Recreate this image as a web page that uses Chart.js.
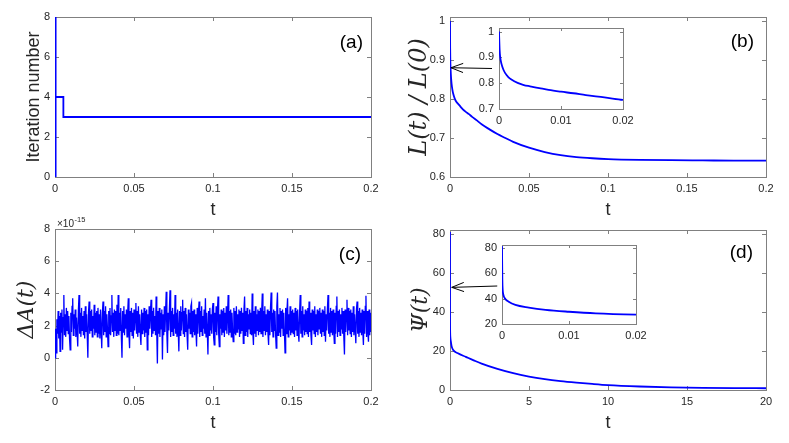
<!DOCTYPE html>
<html>
<head>
<meta charset="utf-8">
<script src="https://cdn.jsdelivr.net/npm/chart.js@4.4.1/dist/chart.umd.min.js"></script>
<style>
  html, body { margin: 0; padding: 0; background: #fff; }
  #fig { position: relative; width: 789px; height: 443px; overflow: hidden; }
  #fig > div { position: absolute; left: 0; top: 0; width: 789px; height: 443px; }
</style>
</head>
<body>
<div id="fig">
  <div><canvas id="chartA"></canvas></div>
  <div><canvas id="chartB"></canvas></div>
  <div><canvas id="chartC"></canvas></div>
  <div><canvas id="chartD"></canvas></div>
  <div><canvas id="insetB"></canvas></div>
  <div><canvas id="insetD"></canvas></div>
</div>
<script>
// (a) iteration number vs t
const aT = [0, 0, 0.0006, 0.0006, 0.0053, 0.0053, 0.2];
const aIter = [0, 8, 8, 4, 4, 3, 3];
const tTicks = [0, 0.05, 0.1, 0.15, 0.2];
const aYTicks = [0, 2, 4, 6, 8];

// (b) L(t)/L(0), the inset shows the same curve on [0, 0.02]
const bT = [0, 0.0001, 0.0002, 0.0004, 0.0007, 0.001, 0.0015, 0.002, 0.003, 0.004, 0.005,
  0.0065, 0.008, 0.01, 0.012, 0.014, 0.017, 0.02, 0.025, 0.03, 0.035, 0.04, 0.05, 0.06,
  0.07, 0.08, 0.09, 0.1, 0.12, 0.14, 0.16, 0.18, 0.2];
const bRatio = [1.0, 0.93, 0.9, 0.875, 0.853, 0.839, 0.824, 0.814, 0.801, 0.793, 0.788,
  0.781, 0.774, 0.767, 0.761, 0.754, 0.745, 0.735, 0.722, 0.71, 0.7, 0.69, 0.675, 0.664,
  0.656, 0.651, 0.648, 0.646, 0.644, 0.643, 0.6425, 0.642, 0.642];
const bYTicks = [0.6, 0.7, 0.8, 0.9, 1];
const insetTTicks = [0, 0.01, 0.02];
const bInsetYTicks = [0.7, 0.8, 0.9, 1];

// (c) Delta A(t), values in units of 1e-15, sampled every cStep
const cStep = 0.0004;
const cDeltaA = [
  0.0, 1.8, 0.3, 2.4, 1.5, 2.9, 1.2, 2.6, 0.4, 2.8, 1.6, 3.0, 0.5, 2.5, 3.9, 1.4, 2.7, 1.3, 3.1, 1.7,
  2.9, 1.5, 2.6, 1.2, 0.5, 2.8, 1.6, 3.2, 3.7, 1.4, 2.7, 1.8, 3.0, 1.3, 2.5, 1.6, 0.7, 2.9, 3.9, 1.5,
  2.8, 1.3, 3.1, 1.7, 2.6, 1.4, 2.9, 1.2, 3.2, 1.6, 2.7, 1.4, 0.0, 2.8, 3.5, 1.5, 2.9, 1.7, 3.0, 1.3,
  2.6, 1.8, 3.3, 1.4, 2.8, 1.6, 2.9, 1.3, 3.1, 1.5, 2.7, 1.2, 3.0, 1.7, 0.6, 2.8, 3.5, 1.4, 2.9, 1.6,
  3.2, 1.3, 2.7, 1.8, 0.7, 2.9, 1.5, 3.1, 1.4, 2.6, 3.9, 1.6, 2.8, 1.3, 3.0, 1.7, 2.9, 1.4, 3.3, 1.5,
  3.9, 1.4, 2.8, 1.7, 3.1, 1.3, 0.0, 2.9, 1.6, 3.2, 1.4, 2.7, 1.8, 3.0, 1.3, 2.8, 3.7, 1.5, 0.6, 2.9,
  1.6, 3.1, 1.4, 2.8, 1.2, 3.0, 1.7, 2.6, 3.4, 1.5, 2.9, 1.3, 3.2, 1.6, 2.7, 1.4, 0.8, 3.0, 1.5, 2.8,
  1.7, 3.1, 1.3, 2.9, 1.6, 3.0, 0.5, 2.7, 1.4, 3.2, 1.8, 2.8, 3.6, 1.3, 2.9, 1.5, 3.1, 1.7, 2.6, 1.4,
  3.8, 1.6, -0.35, 2.9, 1.5, 3.1, 1.3, 2.8, 1.8, 3.0, -0.1, 2.7, 1.4, 3.2, 1.6, 2.9, 4.1, 1.5, 0.3, 2.8,
  1.7, 3.0, 4.2, 1.3, 2.9, 1.6, 3.1, 1.4, 2.7, 1.8, 3.9, 1.5, 2.8, 1.3, 3.0, 1.6, 0.4, 2.9, 1.4, 3.2,
  1.7, 2.8, 3.6, 1.5, 2.9, 1.3, 3.1, 1.6, 2.7, 1.4, 0.5, 3.0, 1.8, 2.8, 1.5, 3.2, 3.4, 1.3, 2.9, 1.6,
  3.0, 1.4, 2.7, 1.7, 0.7, 3.1, 1.5, 2.8, 3.5, 1.3, 2.9, 1.6, 3.2, 1.4, 2.6, 1.8, 3.0, 1.5, 3.7, 1.3,
  2.8, 1.6, 0.2, 2.9, 1.4, 3.1, 1.7, 2.7, 1.5, 3.0, 3.4, 1.3, 0.8, 2.8, 1.6, 3.2, 1.4, 2.9, 3.8, 1.5,
  0.7, 2.7, 1.8, 3.0, 1.4, 2.9, 1.6, 3.1, 1.3, 2.8, 1.7, 3.2, 1.5, 2.6, 3.9, 1.4, 2.9, 1.6, 3.0, 1.3,
  2.8, 1.7, 1.0, 3.1, 1.5, 2.9, 1.4, 3.2, 1.6, 2.7, 1.8, 3.0, 1.3, 2.9, 1.5, 3.1, 1.7, 2.8, 0.9, 3.0,
  3.8, 1.4, 2.9, 1.6, 3.1, 1.3, 2.7, 1.8, 3.0, 1.5, 2.8, 1.4, 4.0, 1.6, 0.8, 2.9, 1.5, 3.2, 1.3, 2.7,
  1.7, 3.0, 1.4, 2.9, 1.6, 3.1, 1.5, 2.8, 4.0, 1.3, 2.9, 1.7, 3.2, 1.4, 2.7, 1.6, 3.0, 1.5, 0.8, 2.9,
  1.4, 3.1, 4.05, 1.6, 2.8, 1.3, 3.0, 1.7, 2.9, 1.5, 0.6, 3.2, 4.05, 1.4, 2.7, 1.6, 3.1, 1.3, 2.9, 1.8,
  3.0, 1.4, 2.8, 1.6, 0.3, 3.1, 1.5, 2.9, 3.7, 1.3, 2.7, 1.7, 3.2, 1.4, 2.9, 1.6, 3.0, 1.5, 2.8, 1.3,
  3.1, 1.7, 2.9, 1.4, 3.0, 1.6, 1.0, 2.8, 3.9, 1.5, 2.9, 1.3, 3.2, 1.7, 2.7, 1.4, 3.0, 1.6, 2.9, 1.5,
  3.1, 1.3, 3.5, 1.6, 2.8, 1.4, 0.8, 3.0, 1.7, 2.9, 1.5, 3.2, 1.3, 2.7, 1.6, 3.0, 1.4, 2.9, 1.8, 3.1,
  1.5, 2.8, 1.3, 3.0, 1.6, 2.9, 1.4, 3.2, 1.0, 2.7, 1.7, 3.0, 3.9, 1.5, 2.8, 1.3, 3.1, 1.6, 2.9, 1.4,
  3.0, 1.7, 0.9, 2.8, 1.5, 3.2, 3.8, 1.3, 2.9, 1.6, 3.0, 1.4, 2.7, 1.8, 3.1, 1.5, 2.9, 1.3, 0.2, 3.0,
  1.6, 2.8, 3.6, 1.4, 3.1, 1.7, 2.9, 1.5, 3.0, 1.3, 2.8, 1.6, 3.2, 1.4, 2.7, 1.8, 0.9, 3.0, 3.5, 1.5,
  2.9, 1.3, 3.1, 1.6, 2.8, 1.4, 3.0, 1.7, 0.8, 2.9, 1.5, 3.2, 3.85, 1.3, 2.9, 1.6, 1.0, 3.0, 1.4, 2.8,
  1.6
];
const cYTicks = [-2, 0, 2, 4, 6, 8];

// (d) Psi(t), the inset shows the same curve on [0, 0.02]
const dT = [0, 0.00005, 0.0001, 0.0002, 0.0005, 0.001, 0.002, 0.004, 0.0065, 0.01, 0.014,
  0.02, 0.05, 0.1, 0.2, 0.5, 1, 1.5, 2, 3, 4, 5, 6, 7, 8, 9, 10, 12, 14, 16, 18, 20];
const dPsi = [81, 55, 47, 43, 39.7, 37.5, 35, 32.9, 31.1, 29.6, 28.3,
  27.3, 25, 22.5, 20.5, 18.8, 17, 15.2, 13.5, 10.8, 8.6, 6.9, 5.6, 4.6, 3.8, 3.1, 2.5,
  1.8, 1.35, 1.1, 0.95, 0.9];
const dTTicks = [0, 5, 10, 15, 20];
const dYTicks = [0, 20, 40, 60, 80];
const dInsetYTicks = [20, 40, 60, 80];

const W = 789, H = 443;
const AXIS = '#808080';
const TEXT = '#262626';

function points(xs, ys) {
  return xs.map((x, i) => ({ x: x, y: ys[i] }));
}

// box, inward ticks, panel letter, arrow and exponent note
const frame = {
  id: 'frame',
  beforeDatasetsDraw(chart, args, o) {
    const { ctx, chartArea: a, scales: { x, y } } = chart;
    const tl = o.tick || 4;
    ctx.save();
    if (o.fill) {
      ctx.fillStyle = '#fff';
      ctx.fillRect(a.left, a.top, a.right - a.left, a.bottom - a.top);
    }
    ctx.strokeStyle = AXIS;
    ctx.lineWidth = 1;
    ctx.beginPath();
    x.ticks.forEach(t => {
      const px = Math.round(x.getPixelForValue(t.value)) + 0.5;
      ctx.moveTo(px, a.bottom); ctx.lineTo(px, a.bottom - tl);
      ctx.moveTo(px, a.top); ctx.lineTo(px, a.top + tl);
    });
    y.ticks.forEach(t => {
      const py = Math.round(y.getPixelForValue(t.value)) + 0.5;
      ctx.moveTo(a.left, py); ctx.lineTo(a.left + tl, py);
      ctx.moveTo(a.right, py); ctx.lineTo(a.right - tl, py);
    });
    ctx.stroke();
    ctx.strokeRect(Math.round(a.left) + 0.5, Math.round(a.top) + 0.5,
      Math.round(a.right - a.left), Math.round(a.bottom - a.top));
    ctx.restore();
  },
  afterDraw(chart, args, o) {
    const { ctx, chartArea: a, scales: { x, y } } = chart;
    ctx.save();
    if (o.label) {
      ctx.fillStyle = '#000';
      ctx.font = '19px "Liberation Sans", Arial, sans-serif';
      ctx.textAlign = 'right';
      ctx.textBaseline = 'middle';
      ctx.fillText(o.label, a.right - o.labelDx, a.top + o.labelDy);
    }
    if (o.arrow) {
      const x0 = x.getPixelForValue(o.arrow.from[0]), y0 = y.getPixelForValue(o.arrow.from[1]);
      const x1 = x.getPixelForValue(o.arrow.to[0]), y1 = y.getPixelForValue(o.arrow.to[1]);
      const ang = Math.atan2(y1 - y0, x1 - x0);
      const hl = 13, ha = 0.36;
      ctx.strokeStyle = '#000';
      ctx.lineWidth = 1;
      ctx.beginPath();
      ctx.moveTo(x0, y0); ctx.lineTo(x1, y1);
      ctx.moveTo(x1 - hl * Math.cos(ang - ha), y1 - hl * Math.sin(ang - ha));
      ctx.lineTo(x1, y1);
      ctx.lineTo(x1 - hl * Math.cos(ang + ha), y1 - hl * Math.sin(ang + ha));
      ctx.stroke();
    }
    if (o.exponent) {
      ctx.fillStyle = TEXT;
      ctx.textAlign = 'left';
      ctx.textBaseline = 'alphabetic';
      ctx.font = '10px "Liberation Sans", Arial, sans-serif';
      ctx.fillText('\u00d710', a.left + 2, a.top - 2);
      const w = ctx.measureText('\u00d710').width;
      ctx.font = '7.5px "Liberation Sans", Arial, sans-serif';
      ctx.fillText(o.exponent, a.left + 2 + w + 0.5, a.top - 7);
    }
    ctx.restore();
  }
};

function scaleOpts(s, dir) {
  const opts = {
    type: 'linear',
    min: s.min,
    max: s.max,
    grid: { display: false, drawTicks: false },
    border: { display: false },
    ticks: {
      color: TEXT,
      font: { family: '"Liberation Sans", Arial, sans-serif', size: 11 },
      padding: 5,
      maxRotation: 0,
      autoSkip: false,
      callback: v => String(v)
    },
    afterBuildTicks: sc => { sc.ticks = s.ticks.map(v => ({ value: v })); },
    afterFit: sc => { if (dir === 'x') sc.height = s.size; else sc.width = s.size; },
    title: { display: false }
  };
  if (s.title) {
    opts.title = {
      display: true,
      text: s.title,
      color: TEXT,
      font: s.font,
      padding: { top: s.pad, bottom: s.pad }
    };
  }
  return opts;
}

function plot(id, box, data, xs, ys, lw, smooth, frameOpts) {
  new Chart(document.getElementById(id), {
    type: 'line',
    data: {
      datasets: [{
        data: data,
        borderColor: '#0000ff',
        borderWidth: lw,
        pointRadius: 0,
        fill: false,
        tension: 0,
        cubicInterpolationMode: smooth ? 'monotone' : 'default'
      }]
    },
    options: {
      responsive: true,
      maintainAspectRatio: false,
      animation: false,
      events: [],
      layout: {
        padding: { left: box[0] - ys.size, top: box[1], right: W - box[2], bottom: H - box[3] - xs.size }
      },
      scales: { x: scaleOpts(xs, 'x'), y: scaleOpts(ys, 'y') },
      plugins: { legend: { display: false }, tooltip: { enabled: false }, frame: frameOpts }
    },
    plugins: [frame]
  });
}

const sans18 = { family: '"Liberation Sans", Arial, sans-serif', size: 18 };
const mathFont = size => ({ family: '"DejaVu Serif", serif', size: size, style: 'italic' });
const xMain = (ticks, max) => ({ min: 0, max: max, ticks: ticks, size: 48, title: 't', font: sans18, pad: 3.7 });

plot('chartA', [55, 17, 371, 177], points(aT, aIter),
  xMain(tTicks, 0.2),
  { min: 0, max: 8, ticks: aYTicks, size: 55, title: 'Iteration number', font: sans18, pad: 23.2 },
  1.8, false, { label: '(a)', labelDx: 8, labelDy: 26 });

plot('chartB', [450, 17, 766, 177], points(bT, bRatio),
  xMain(tTicks, 0.2),
  { min: 0.6, max: 1.01, ticks: bYTicks, size: 55, title: 'L(t) / L(0)', font: mathFont(24), pad: 10.3 },
  1.8, true, { label: '(b)', labelDx: 12, labelDy: 25, arrow: { from: [0.0266, 0.878], to: [0.0006, 0.880] } });

plot('chartC', [55, 229, 371, 390], points(cDeltaA.map((_, i) => i * cStep), cDeltaA),
  xMain(tTicks, 0.2),
  { min: -2, max: 8, ticks: cYTicks, size: 55, title: '\u0394A(t)', font: mathFont(22), pad: 14.3 },
  1.3, false, { label: '(c)', labelDx: 10, labelDy: 26, exponent: '-15' });

plot('chartD', [450, 230, 766, 390], points(dT, dPsi),
  xMain(dTTicks, 20),
  { min: 0, max: 82, ticks: dYTicks, size: 55, title: '\u03a8(t)', font: mathFont(22), pad: 13.5 },
  1.8, true, { label: '(d)', labelDx: 13, labelDy: 23, arrow: { from: [2.99, 53.3], to: [0.11, 52.6] } });

plot('insetB', [499, 28, 623, 109], points(bT, bRatio),
  { min: 0, max: 0.02, ticks: insetTTicks, size: 20 },
  { min: 0.7, max: 1.014, ticks: bInsetYTicks, size: 30 },
  1.8, true, { fill: true, tick: 3 });

plot('insetD', [502, 245, 636, 324], points(dT, dPsi),
  { min: 0, max: 0.02, ticks: insetTTicks, size: 20 },
  { min: 20, max: 82, ticks: dInsetYTicks, size: 30 },
  1.8, true, { fill: true, tick: 3 });
</script>
</body>
</html>
